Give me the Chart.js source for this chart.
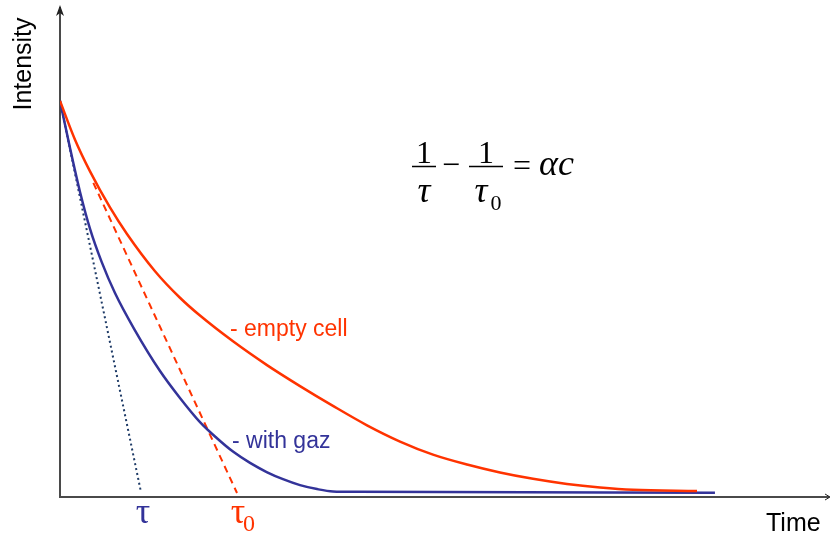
<!DOCTYPE html>
<html>
<head>
<meta charset="utf-8">
<title>Cavity ring-down</title>
<script src="https://cdn.jsdelivr.net/npm/chart.js@4/dist/chart.umd.min.js"></script>
<style>
  html, body { margin: 0; padding: 0; background: #fff; }
</style>
</head>
<body>
<canvas id="decay" width="833" height="539"></canvas>
<script>
// Décroissance de l'intensité : cellule vide / avec gaz (unités arbitraires)
const emptyTime      = [0, 1.95, 3.9, 6.49, 8.7, 12.34, 15.58, 18.18, 22.47, 26.88, 31.17,
                        35.45, 39.87, 44.16, 48.44, 52.86, 57.14, 61.43, 65.84, 70.13, 74.42, 82.73];
const emptyIntensity = [100, 90.2, 82.2, 73.1, 66.4, 57.0, 50.3, 45.8, 39.3, 33.3, 28.0,
                        23.0, 18.1, 14.0, 10.7, 8.2, 6.2, 4.6, 3.3, 2.4, 1.8, 1.5];

const gazTime      = [0, 1.3, 2.6, 3.9, 5.42, 7.14, 9.64, 12.99, 15.58, 18.18, 20.35,
                      22.51, 24.68, 26.84, 28.96, 31.17, 33.38, 35.45, 38.57, 85.06];
const gazIntensity = [100, 88.1, 77.0, 67.7, 59.3, 51.5, 42.4, 31.8, 25.0, 18.9, 14.9,
                      11.4, 8.6, 6.3, 4.5, 3.0, 2.0, 1.4, 1.3, 1.1];

// tangentes à l'origine -> tau et tau0
const tauTime       = [0, 10.52];
const tauIntensity  = [100, 1.2];
const tau0Time      = [4.33, 22.99];
const tau0Intensity = [79.3, 1.0];

const curveLabels = ['- empty cell', '- with gaz'];
const axisLabels  = ['Time', 'Intensity'];
const tauLabels   = ['\u03C4', '\u03C4', '0'];

const RED  = '#ff3300';
const BLUE = '#333399';
const NAVY = '#1d3a66';

function pts(xs, ys) {
  return xs.map((x, i) => ({ x: x, y: ys[i] }));
}

// axes avec flèches + textes
const decorations = {
  id: 'decorations',
  beforeDatasetsDraw(chart) {
    const ctx = chart.ctx;
    const a = chart.chartArea;
    ctx.save();
    ctx.strokeStyle = '#4a4a4a';
    ctx.fillStyle = '#222';
    ctx.lineWidth = 2;
    ctx.beginPath();
    ctx.moveTo(a.left, a.top + 2);
    ctx.lineTo(a.left, a.bottom);
    ctx.lineTo(a.right - 1, a.bottom);
    ctx.stroke();
    // flèche verticale
    ctx.beginPath();
    ctx.moveTo(a.left, a.top);
    ctx.lineTo(a.left - 4, a.top + 11);
    ctx.lineTo(a.left, a.top + 8);
    ctx.lineTo(a.left + 4, a.top + 11);
    ctx.closePath();
    ctx.fill();
    // flèche horizontale
    ctx.lineWidth = 1;
    ctx.strokeStyle = '#222';
    ctx.beginPath();
    ctx.moveTo(a.right - 5, a.bottom - 3);
    ctx.lineTo(a.right, a.bottom);
    ctx.lineTo(a.right - 5, a.bottom + 3);
    ctx.stroke();
    ctx.restore();
  },
  afterDraw(chart) {
    const ctx = chart.ctx;
    const xs = chart.scales.x;
    ctx.save();
    ctx.textAlign = 'left';
    ctx.textBaseline = 'alphabetic';

    // titres des axes
    ctx.fillStyle = '#000';
    ctx.font = '25px "Liberation Sans", Arial, sans-serif';
    ctx.fillText(axisLabels[0], 766, 531);
    ctx.save();
    ctx.translate(31, 64);
    ctx.rotate(-Math.PI / 2);
    ctx.textAlign = 'center';
    ctx.font = '25px "Liberation Sans", Arial, sans-serif';
    ctx.fillText(axisLabels[1], 0, 0);
    ctx.restore();

    // légendes des courbes
    ctx.font = '23px "Liberation Sans", Arial, sans-serif';
    ctx.fillStyle = RED;
    ctx.fillText(curveLabels[0], 230, 336);
    ctx.fillStyle = BLUE;
    ctx.fillText(curveLabels[1], 232, 448);

    // tau / tau0 sous l'axe
    ctx.font = '36px "Liberation Serif", "Times New Roman", serif';
    ctx.textAlign = 'center';
    ctx.fillStyle = BLUE;
    ctx.fillText(tauLabels[0], xs.getPixelForValue(tauTime[1]) + 2, 523);
    ctx.fillStyle = RED;
    const t0 = xs.getPixelForValue(tau0Time[1]);
    ctx.fillText(tauLabels[1], t0 + 1, 523);
    ctx.textAlign = 'left';
    ctx.font = '24px "Liberation Serif", "Times New Roman", serif';
    ctx.fillText(tauLabels[2], t0 + 6, 531);

    // formule 1/tau - 1/tau0 = alpha c
    ctx.fillStyle = '#000';
    ctx.strokeStyle = '#000';
    ctx.lineWidth = 1.5;
    const serif = '"Liberation Serif", "Times New Roman", serif';
    ctx.textAlign = 'center';
    ctx.font = '32px ' + serif;
    ctx.fillText('1', 424, 163);
    ctx.fillText('1', 486, 163);
    ctx.beginPath();
    ctx.moveTo(412, 166.5); ctx.lineTo(436, 166.5);
    ctx.moveTo(469, 166.5); ctx.lineTo(503, 166.5);
    ctx.stroke();
    ctx.font = 'italic 36px ' + serif;
    ctx.fillText('\u03C4', 424, 202);
    ctx.fillText('\u03C4', 481, 202);
    ctx.font = '22px ' + serif;
    ctx.fillText('0', 496, 210);
    ctx.font = '32px ' + serif;
    ctx.fillText('\u2212', 451, 175);
    ctx.fillText('=', 522, 176);
    ctx.textAlign = 'left';
    ctx.font = 'italic 36px ' + serif;
    ctx.fillText('\u03B1c', 539, 175);
    ctx.restore();
  }
};

new Chart(document.getElementById('decay').getContext('2d'), {
  type: 'line',
  data: {
    datasets: [
      { label: 'empty cell', data: pts(emptyTime, emptyIntensity), borderColor: RED,
        borderWidth: 2.5, cubicInterpolationMode: 'monotone' },
      { label: 'with gaz', data: pts(gazTime, gazIntensity), borderColor: BLUE,
        borderWidth: 2.5, cubicInterpolationMode: 'monotone' },
      { label: 'tau0', data: pts(tau0Time, tau0Intensity), borderColor: RED,
        borderWidth: 2, borderDash: [7, 5] },
      { label: 'tau', data: pts(tauTime, tauIntensity), borderColor: NAVY,
        borderWidth: 2, borderDash: [2, 3] }
    ]
  },
  options: {
    responsive: false,
    animation: false,
    layout: { padding: { left: 60, top: 5, right: 3, bottom: 42 } },
    elements: { point: { radius: 0 }, line: { fill: false } },
    plugins: { legend: { display: false }, tooltip: { enabled: false } },
    scales: {
      x: { type: 'linear', min: 0, max: 100, display: false },
      y: { type: 'linear', min: 0, max: 124.2, display: false }
    }
  },
  plugins: [decorations]
});
</script>
</body>
</html>
